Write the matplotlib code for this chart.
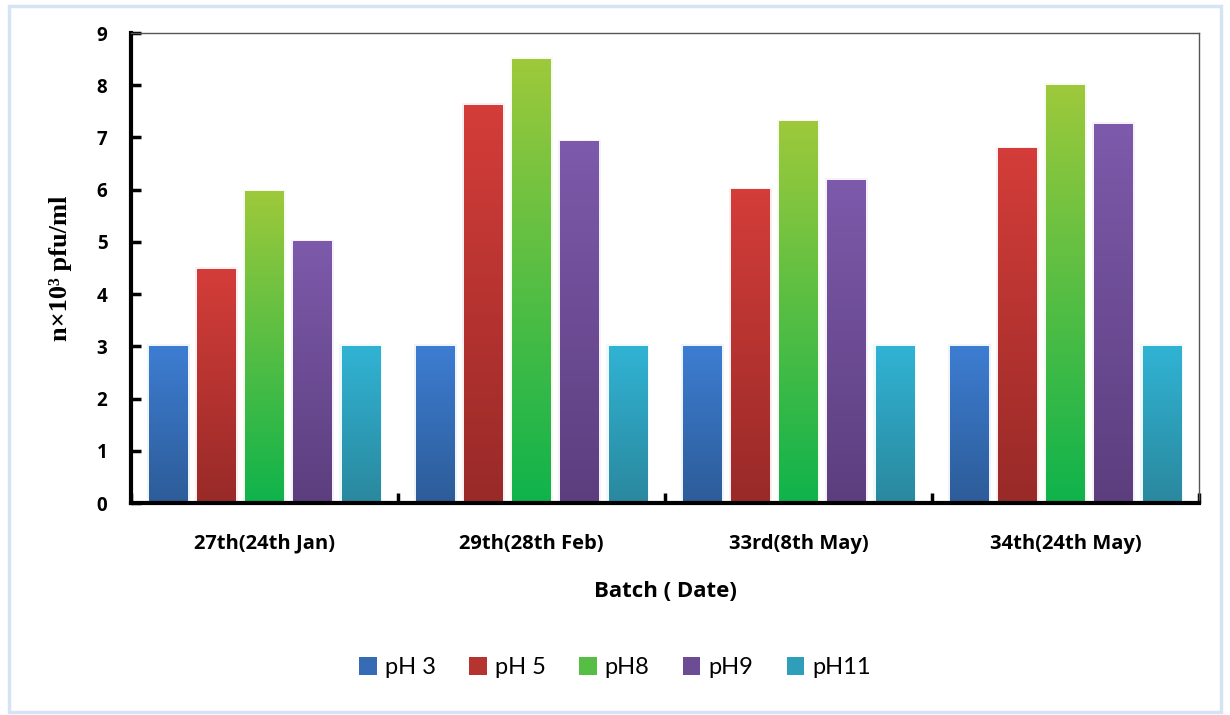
import numpy as np
import matplotlib.pyplot as plt
import matplotlib.colors as mcolors
from matplotlib.patches import Rectangle, Patch

batches = ['27th(24th Jan)', '29th(28th Feb)', '33rd(8th May)', '34th(24th May)']
series = ['pH 3', 'pH 5', 'pH8', 'pH9', 'pH11']
ph3 = [3.0, 3.0, 3.0, 3.0]
ph5 = [4.47, 7.62, 6.0, 6.78]
ph8 = [5.96, 8.5, 7.3, 8.0]
ph9 = [5.0, 6.92, 6.18, 7.25]
ph11 = [3.0, 3.0, 3.0, 3.0]
values = [ph3, ph5, ph8, ph9, ph11]

# (top colour, bottom colour) for each series gradient
grads = [('#3d7dd2', '#2d5c98'),
         ('#d43d39', '#982a28'),
         ('#9ec93b', '#0fb34c'),
         ('#7d5aab', '#5c3e7e'),
         ('#31b3d4', '#2a889e')]

plt.rcParams['font.family'] = 'Open Sans'

fig = plt.figure(figsize=(12.3, 7.15), dpi=100)
fig.patches.append(Rectangle((0.007, 0.004), 0.986, 0.988, transform=fig.transFigure,
                             fill=False, edgecolor='#d5e3f4', linewidth=2.5))
ax = fig.add_axes([0.1065, 0.2965, 0.8683, 0.6573])

x = np.arange(len(batches))
step = 0.18
width = 0.143
grad = np.linspace(0, 1, 256).reshape(-1, 1)

for i, (vals, (top, bot)) in enumerate(zip(values, grads)):
    cmap = mcolors.LinearSegmentedColormap.from_list(f'g{i}', [bot, top])
    offs = (i - 2) * step
    for xi, v in zip(x, vals):
        x0 = xi + offs - width / 2
        # soft glow behind the bar
        ax.add_patch(Rectangle((x0 - 0.008, 0), width + 0.016, v + 0.04,
                               facecolor=top, alpha=0.08, edgecolor='none', zorder=1))
        ax.imshow(grad, extent=[x0, x0 + width, 0, v], origin='lower',
                  aspect='auto', cmap=cmap, zorder=2, interpolation='bilinear')

ax.set_xlim(-0.5, len(batches) - 0.5)
ax.set_ylim(0, 9)
ax.set_yticks(range(0, 10))
ax.set_xticks(x)
ax.set_xticklabels(batches, fontsize=14.5, fontweight='bold')
ax.set_xticks(np.arange(-0.5, len(batches), 1.0), minor=True)
ax.tick_params(axis='x', which='major', length=0, pad=22)
ax.tick_params(axis='x', which='minor', direction='in', length=7, width=2.5)
ax.tick_params(axis='y', direction='in', length=7, width=2.5, pad=17, labelsize=13.5)
for lab in ax.get_yticklabels():
    lab.set_fontweight('bold')

for s in ['left', 'bottom']:
    ax.spines[s].set_linewidth(3)
    ax.spines[s].set_color('black')
for s in ['top', 'right']:
    ax.spines[s].set_linewidth(1)
    ax.spines[s].set_color('#555555')

ax.set_ylabel('n×10³ pfu/ml', fontsize=19, fontweight='bold',
              family='Liberation Serif', labelpad=18)
ax.set_xlabel('Batch ( Date)', fontsize=16, fontweight='bold', labelpad=20)

handles = [Patch(facecolor=mcolors.to_hex(np.mean([mcolors.to_rgb(t), mcolors.to_rgb(b)], axis=0)),
                 edgecolor='none', label=s) for s, (t, b) in zip(series, grads)]
fig.legend(handles=handles, loc='center', bbox_to_anchor=(0.5, 0.066), ncol=5,
           frameon=False, prop={'family': 'Lato', 'size': 17}, handlelength=0.75,
           handleheight=0.75, handletextpad=0.35, columnspacing=1.4)

fig.savefig('out.png', dpi=100)
